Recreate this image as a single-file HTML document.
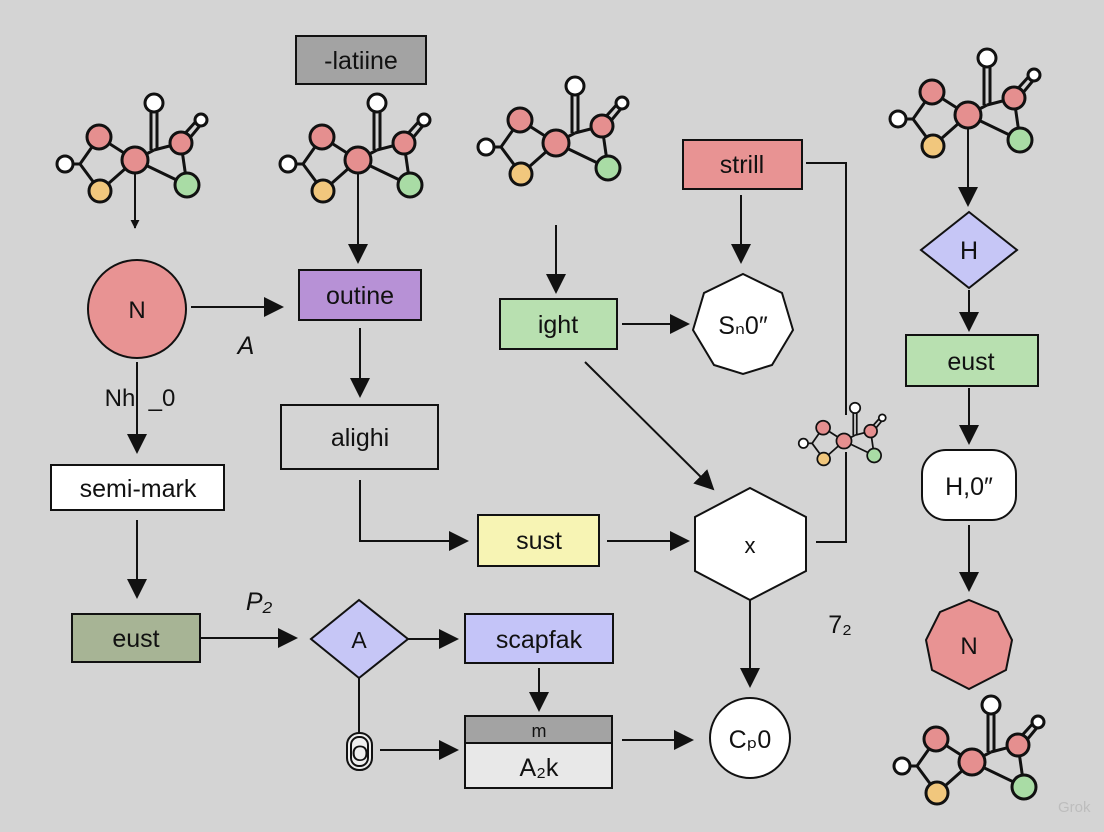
<!DOCTYPE html>
<html><head><meta charset="utf-8"><style>
html,body{margin:0;padding:0;background:#d4d4d4}
svg{display:block}
text{font-family:"Liberation Sans",sans-serif;fill:#111}
</style></head><body>
<svg width="1104" height="832" viewBox="0 0 1104 832" xmlns="http://www.w3.org/2000/svg">
<defs>
<marker id="ar" viewBox="0 0 10 10" refX="9" refY="5" markerWidth="9" markerHeight="9" markerUnits="userSpaceOnUse" orient="auto"><path d="M0,0L10,5L0,10z" fill="#111"/></marker>
<marker id="ab" viewBox="0 0 10 10" refX="9" refY="5" markerWidth="20" markerHeight="20" markerUnits="userSpaceOnUse" orient="auto"><path d="M0,0L10,5L0,10z" fill="#111"/></marker>
<g id="mol" stroke="#111" stroke-width="3">
<line x1="-70" y1="4" x2="-55" y2="4"/><line x1="-55" y1="4" x2="-36" y2="-23"/><line x1="-55" y1="4" x2="-35" y2="31"/>
<line x1="-36" y1="-23" x2="0" y2="0"/><line x1="-35" y1="31" x2="0" y2="0"/><line x1="0" y1="0" x2="52" y2="25"/>
<line x1="0" y1="0" x2="19" y2="-10"/><line x1="19" y1="-10" x2="46" y2="-17"/>
<line x1="16" y1="-10" x2="16" y2="-55"/><line x1="22" y1="-10" x2="22" y2="-55"/>
<line x1="46" y1="-17" x2="52" y2="25"/><line x1="44" y1="-20" x2="64" y2="-42"/><line x1="49" y1="-15" x2="68" y2="-38"/>
<circle cx="19" cy="-57" r="9" fill="#fff"/><circle cx="-36" cy="-23" r="12" fill="#e58f8f"/>
<circle cx="0" cy="0" r="13" fill="#e58f8f"/><circle cx="46" cy="-17" r="11" fill="#e58f8f"/>
<circle cx="-70" cy="4" r="8" fill="#fff"/><circle cx="-35" cy="31" r="11" fill="#f1c77d"/>
<circle cx="52" cy="25" r="12" fill="#a9dca5"/><circle cx="66" cy="-40" r="6" fill="#fff"/>
</g>
</defs>
<rect x="0" y="0" width="1104" height="832" fill="#d4d4d4"/>
<g stroke="#111" stroke-width="2" fill="none">
<!-- molecule stems -->
<line x1="135" y1="160" x2="135" y2="228" marker-end="url(#ar)"/>
<line x1="358" y1="160" x2="358" y2="262" marker-end="url(#ab)"/>
<line x1="556" y1="225" x2="556" y2="292" marker-end="url(#ab)"/>
<line x1="968" y1="115" x2="968" y2="205" marker-end="url(#ab)"/>
<!-- left column -->
<line x1="191" y1="307" x2="282" y2="307" marker-end="url(#ab)"/>
<line x1="137" y1="362" x2="137" y2="452" marker-end="url(#ab)"/>
<line x1="137" y1="520" x2="137" y2="597" marker-end="url(#ab)"/>
<line x1="200" y1="638" x2="296" y2="638" marker-end="url(#ab)"/>
<!-- second column -->
<line x1="360" y1="328" x2="360" y2="396" marker-end="url(#ab)"/>
<polyline points="360,480 360,541 467,541" marker-end="url(#ab)"/>
<line x1="607" y1="541" x2="688" y2="541" marker-end="url(#ab)"/>
<line x1="408" y1="639" x2="457" y2="639" marker-end="url(#ab)"/>
<line x1="359" y1="678" x2="359" y2="735"/>
<line x1="380" y1="750" x2="457" y2="750" marker-end="url(#ab)"/>
<line x1="539" y1="668" x2="539" y2="710" marker-end="url(#ab)"/>
<line x1="622" y1="740" x2="692" y2="740" marker-end="url(#ab)"/>
<!-- third column -->
<line x1="622" y1="324" x2="688" y2="324" marker-end="url(#ab)"/>
<line x1="585" y1="362" x2="713" y2="489" marker-end="url(#ab)"/>
<line x1="741" y1="195" x2="741" y2="262" marker-end="url(#ab)"/>
<polyline points="806,163 846,163 846,415"/>
<polyline points="846,452 846,542 816,542"/>
<line x1="750" y1="600" x2="750" y2="686" marker-end="url(#ab)"/>
<!-- right column -->
<line x1="969" y1="290" x2="969" y2="330" marker-end="url(#ab)"/>
<line x1="969" y1="388" x2="969" y2="443" marker-end="url(#ab)"/>
<line x1="969" y1="525" x2="969" y2="590" marker-end="url(#ab)"/>
</g>
<use href="#mol" x="135" y="160"/>
<use href="#mol" x="358" y="160"/>
<use href="#mol" x="556" y="143"/>
<use href="#mol" x="968" y="115"/>
<use href="#mol" transform="translate(844,441) scale(0.58)"/>
<use href="#mol" x="972" y="762" transform=""/>
<g stroke="#111" stroke-width="2">
<rect x="296" y="36" width="130" height="48" fill="#a3a3a3"/>
<circle cx="137" cy="309" r="49" fill="#e89393"/>
<rect x="299" y="270" width="122" height="50" fill="#b791d6"/>
<rect x="281" y="405" width="157" height="64" fill="none"/>
<rect x="51" y="465" width="173" height="45" fill="#fff"/>
<rect x="72" y="614" width="128" height="48" fill="#a7b495"/>
<polygon points="359,600 408,639 359,678 311,639" fill="#c6c6f6"/>
<rect x="465" y="614" width="148" height="49" fill="#c4c4f8"/>
<rect x="465" y="716" width="147" height="27" fill="#a3a3a3"/>
<rect x="465" y="743" width="147" height="45" fill="#e8e8e8"/>
<rect x="347" y="733" width="25" height="37" rx="12" fill="#eee"/>
<rect x="351" y="737" width="17" height="29" rx="8" fill="none"/>
<rect x="478" y="515" width="121" height="51" fill="#f7f4b4"/>
<rect x="500" y="299" width="117" height="50" fill="#b8e0b0"/>
<rect x="683" y="140" width="119" height="49" fill="#e89393"/>
<polygon points="743,274 782,293 793,330 772,365 743,374 714,365 693,330 704,293" fill="#fff"/>
<polygon points="750,488 806,517 806,571 750,600 695,571 695,517" fill="#fff"/>
<circle cx="750" cy="738" r="40" fill="#fff"/>
<polygon points="969,212 1017,250 969,288 921,250" fill="#c6c6f6"/>
<rect x="906" y="335" width="132" height="51" fill="#b8e0b0"/>
<rect x="922" y="450" width="94" height="70" rx="24" fill="#fff"/>
<polygon points="969,600 998,612 1012,640 1006,670 969,689 932,670 926,640 940,612" fill="#e89393"/>
</g>
<g font-size="25" text-anchor="middle">
<text x="361" y="69">-latiine</text>
<text x="137" y="318" font-size="24">N</text>
<text x="360" y="304">outine</text>
<text x="360" y="446">alighi</text>
<text x="138" y="497">semi-mark</text>
<text x="136" y="647">eust</text>
<text x="359" y="648" font-size="23">A</text>
<text x="539" y="648">scapfak</text>
<text x="539" y="737" font-size="18">m</text>
<text x="539" y="776">A₂k</text>
<text x="360" y="761" font-size="22">O</text>
<text x="539" y="549">sust</text>
<text x="558" y="333">ight</text>
<text x="742" y="173">strill</text>
<text x="743" y="334">Sₙ0″</text>
<text x="750" y="553" font-size="22">x</text>
<text x="750" y="748">Cₚ0</text>
<text x="969" y="259">H</text>
<text x="971" y="370">eust</text>
<text x="969" y="495">H,0″</text>
<text x="969" y="654" font-size="24">N</text>
<text x="246" y="354" font-style="italic">A</text>
<text x="120" y="406" font-size="24">Nh</text>
<text x="162" y="406" font-size="24">_0</text>
<text x="259" y="610" font-style="italic">P₂</text>
<text x="840" y="633">7₂</text>
</g>
<text x="1058" y="812" font-size="15" fill="#bbb" style="fill:#bdbdbd">Grok</text>
</svg>
</body></html>
